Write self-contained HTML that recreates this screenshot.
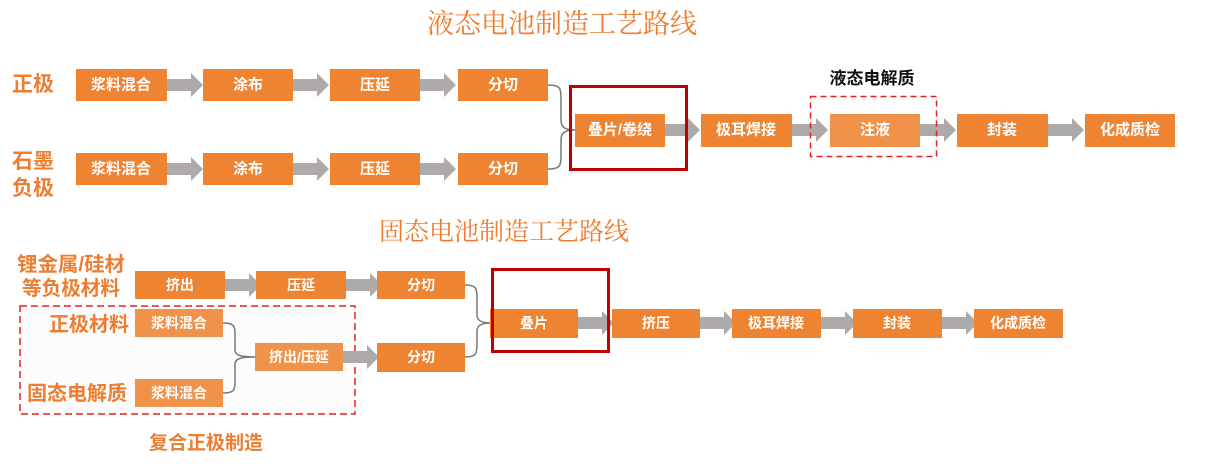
<!DOCTYPE html>
<html><head><meta charset="utf-8"><style>
html,body{margin:0;padding:0;background:#fff;}
svg text{font-family:"Liberation Sans","Noto Sans CJK SC",sans-serif;}
.bt{fill:#fff;font-size:15px;font-weight:bold;text-anchor:middle;dominant-baseline:central;}
.lb{fill:#ED7D31;font-weight:bold;}
.ti{fill:#ED7D31;font-family:"Noto Serif CJK SC","WenQuanYi Zen Hei",serif !important;}
</style></head><body>
<svg width="1205" height="464" viewBox="0 0 1205 464" xmlns="http://www.w3.org/2000/svg">
<defs>
<g id="ar"><polygon points="0,-6 24,-6 24,-12 36,0 24,12 24,6 0,6" fill="#ADAAA9"/></g>
</defs>
<text class="ti" x="562" y="33" font-size="27" text-anchor="middle">液态电池制造工艺路线</text>
<text class="ti" x="504" y="240" font-size="25" text-anchor="middle">固态电池制造工艺路线</text>

<text class="lb" x="12" y="91" font-size="21">正极</text>
<text class="lb" x="12" y="168" font-size="21">石墨</text>
<text class="lb" x="12" y="195" font-size="21">负极</text>
<text x="872" y="84" font-size="17" font-weight="bold" text-anchor="middle" fill="#111">液态电解质</text>

<use href="#ar" x="167" y="85"/><use href="#ar" x="293" y="85"/><use href="#ar" x="420" y="85"/>
<use href="#ar" x="167" y="169"/><use href="#ar" x="293" y="169"/><use href="#ar" x="420" y="169"/>
<use href="#ar" x="664" y="130"/><use href="#ar" x="792" y="130"/><use href="#ar" x="920" y="130"/><use href="#ar" x="1048" y="130"/>

<path d="M548,85 C560,85 561,88 561,98 L561,120 C561,128 566,130 575,130 M548,169 C560,169 561,166 561,156 L561,140 C561,132 566,130 575,130" fill="none" stroke="#777" stroke-width="1.5"/>

<g fill="#EE8432">
<rect x="76" y="69" width="91" height="32"/><rect x="203" y="69" width="90" height="32"/>
<rect x="330" y="69" width="90" height="32"/><rect x="458" y="69" width="90" height="32"/>
<rect x="76" y="153" width="91" height="32"/><rect x="203" y="153" width="90" height="32"/>
<rect x="330" y="153" width="90" height="32"/><rect x="458" y="153" width="90" height="32"/>
<rect x="575" y="114" width="90" height="33"/>
<rect x="701" y="114" width="91" height="33"/>
<rect x="957" y="114" width="91" height="33"/><rect x="1085" y="114" width="90" height="33"/>
</g>
<rect x="830" y="114" width="90" height="33" fill="#F0924A"/>
<text x="121" y="85" class="bt">浆料混合</text><text x="248" y="85" class="bt">涂布</text>
<text x="375" y="85" class="bt">压延</text><text x="503" y="85" class="bt">分切</text>
<text x="121" y="169" class="bt">浆料混合</text><text x="248" y="169" class="bt">涂布</text>
<text x="375" y="169" class="bt">压延</text><text x="503" y="169" class="bt">分切</text>
<text x="620" y="130" class="bt">叠片/卷绕</text><text x="746" y="130" class="bt">极耳焊接</text>
<text x="875" y="130" class="bt">注液</text><text x="1002" y="130" class="bt">封装</text>
<text x="1130" y="130" class="bt">化成质检</text>
<rect x="570.5" y="86.5" width="116" height="83" fill="none" stroke="#C00000" stroke-width="3"/>
<rect x="810.5" y="96.5" width="126" height="60" fill="none" stroke="#E52020" stroke-width="1.5" stroke-dasharray="6,4"/>

<rect x="20" y="306" width="335" height="108" fill="#FCFCFC" stroke="#E52020" stroke-width="1.5" stroke-dasharray="7,4"/>
<text class="lb" x="17" y="271" font-size="20" textLength="108" lengthAdjust="spacingAndGlyphs">锂金属/硅材</text>
<text class="lb" x="22" y="295" font-size="20" textLength="98" lengthAdjust="spacingAndGlyphs">等负极材料</text>
<text class="lb" x="129" y="331" font-size="20" text-anchor="end">正极材料</text>
<text class="lb" x="127" y="400" font-size="20" text-anchor="end">固态电解质</text>
<text class="lb" x="206" y="449" font-size="19" text-anchor="middle">复合正极制造</text>

<use href="#ar" x="225" y="285"/><use href="#ar" x="346" y="285"/>
<use href="#ar" x="343" y="357"/>
<use href="#ar" x="578" y="323"/><use href="#ar" x="700" y="323"/><use href="#ar" x="821" y="323"/><use href="#ar" x="942" y="323"/>

<path d="M223,323 C234,323 235,326 235,334 L235,350 C235,355 240,357 255,357 M223,393 C234,393 235,390 235,382 L235,364 C235,359 240,357 255,357" fill="none" stroke="#777" stroke-width="1.5"/>
<path d="M465,285 C476,285 477,288 477,298 L477,315 C477,321 482,323 492,323 M465,357 C476,357 477,354 477,344 L477,331 C477,325 482,323 492,323" fill="none" stroke="#777" stroke-width="1.5"/>

<g fill="#EE8432">
<rect x="135" y="271" width="90" height="28"/><rect x="256" y="271" width="90" height="28"/>
<rect x="377" y="271" width="88" height="28"/><rect x="377" y="343" width="88" height="29"/>
<rect x="490" y="309" width="88" height="29"/><rect x="612" y="309" width="88" height="29"/>
<rect x="732" y="309" width="89" height="29"/><rect x="853" y="309" width="89" height="29"/>
<rect x="974" y="309" width="89" height="29"/>
</g>
<g fill="#F0924A">
<rect x="135" y="309" width="88" height="28"/><rect x="135" y="379" width="88" height="28"/>
<rect x="255" y="343" width="88" height="28"/>
</g>
<text x="180" y="285" class="bt" style="font-size:14px">挤出</text>
<text x="301" y="285" class="bt" style="font-size:14px">压延</text>
<text x="421" y="285" class="bt" style="font-size:14px">分切</text>
<text x="421" y="357" class="bt" style="font-size:14px">分切</text>
<text x="179" y="323" class="bt" style="font-size:14px">浆料混合</text>
<text x="179" y="393" class="bt" style="font-size:14px">浆料混合</text>
<text x="299" y="357" class="bt" style="font-size:14px">挤出/压延</text>
<text x="534" y="323" class="bt" style="font-size:14px">叠片</text>
<text x="656" y="323" class="bt" style="font-size:14px">挤压</text>
<text x="776" y="323" class="bt" style="font-size:14px">极耳焊接</text>
<text x="897" y="323" class="bt" style="font-size:14px">封装</text>
<text x="1018" y="323" class="bt" style="font-size:14px">化成质检</text>
<rect x="492.5" y="269.5" width="116" height="82" fill="none" stroke="#C00000" stroke-width="3"/>
</svg>
</body></html>
